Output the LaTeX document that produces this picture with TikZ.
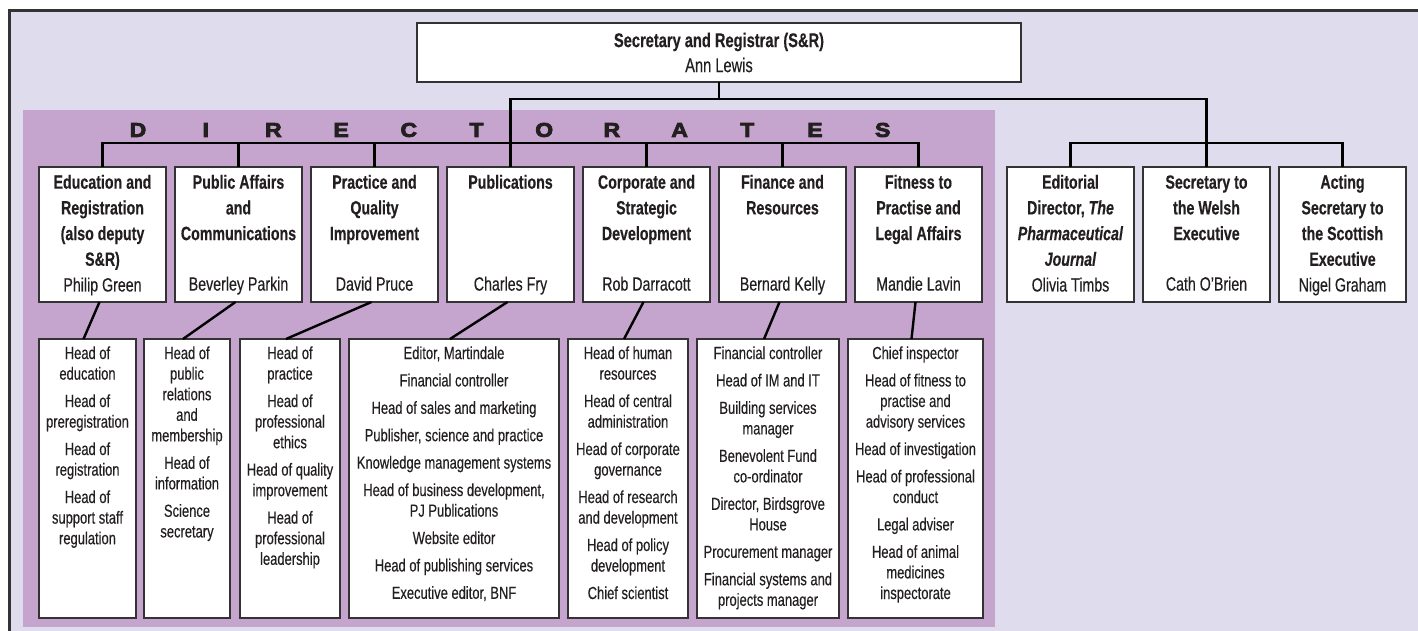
\documentclass[tikz,border=0pt]{standalone}
\usepackage{fontspec}
\setmainfont{Liberation Sans}[FakeStretch=0.74, FakeBold=0.3]
\newfontfamily\widefont{Liberation Sans}[FakeStretch=1.15, FakeBold=4]
\usepackage{tikz}
\usetikzlibrary{positioning, backgrounds}
\definecolor{lavender}{HTML}{DFDCEE}
\definecolor{panel}{HTML}{C5A5CD}
\definecolor{ink}{HTML}{231F20}
\definecolor{boxline}{HTML}{333333}
\newcommand{\topfont}{\fontsize{19.8}{25}\selectfont}
\newcommand{\dirfont}{\fontsize{19.2}{25.7}\selectfont}
\newcommand{\subfont}{\fontsize{17.5}{20.6}\selectfont}
\newcommand{\nextitem}{\\[6.8pt]}
\newcommand{\dirtext}[2]{\parbox[c][127.6pt][t]{123pt}{\dirfont\centering\bfseries\strut #1\strut\par\vfill\mdseries\strut #2\strut}}
\newcommand{\subtext}[2]{\parbox[c][267.8pt][t]{#1}{\subfont\centering\strut #2\strut}}
\tikzstyle{topbox}=[draw=boxline, fill=white, line width=1.2pt, outer sep=0pt, text=ink, align=center, font=\topfont, minimum width=604pt, minimum height=59pt, inner sep=0pt]
\tikzstyle{dirbox}=[draw=boxline, fill=white, line width=1.2pt, outer sep=0pt, text=ink, inner xsep=2pt, inner ysep=3.7pt]
\tikzstyle{subbox}=[draw=boxline, fill=white, line width=1.2pt, outer sep=0pt, text=ink, inner xsep=0pt, inner ysep=5.6pt]
\tikzstyle{letter}=[text=ink, inner sep=0pt, font=\widefont\bfseries\fontsize{20}{20}\selectfont]
\tikzstyle{conn}=[line width=2.4pt, black]

\begin{document}
\begin{tikzpicture}[x=1pt, y=-1pt]
\useasboundingbox (0,0) rectangle (1418,631);
% the top box
\node[topbox] (sr) at (719,52.5) {\textbf{Secretary and Registrar (S\&R)}\\Ann Lewis};
% the directors
\node[dirbox, anchor=north west] (d1) at (39,167) {\dirtext{Education and\\Registration\\(also deputy\\S\&R)}{Philip Green}};
\node[dirbox, right=9pt of d1] (d2) {\dirtext{Public Affairs\\and\\Communications}{Beverley Parkin}};
\node[dirbox, right=9pt of d2] (d3) {\dirtext{Practice and\\Quality\\Improvement}{David Pruce}};
\node[dirbox, right=9pt of d3] (d4) {\dirtext{Publications}{Charles Fry}};
\node[dirbox, right=9pt of d4] (d5) {\dirtext{Corporate and\\Strategic\\Development}{Rob Darracott}};
\node[dirbox, right=9pt of d5] (d6) {\dirtext{Finance and\\Resources}{Bernard Kelly}};
\node[dirbox, right=9pt of d6] (d7) {\dirtext{Fitness to\\Practise and\\Legal Affairs}{Mandie Lavin}};
% the executives
\node[dirbox, right=25pt of d7] (e1) {\dirtext{Editorial\\Director, \textit{The}\\\textit{Pharmaceutical}\\\textit{Journal}}{Olivia Timbs}};
\node[dirbox, right=9pt of e1] (e2) {\dirtext{Secretary to\\the Welsh\\Executive}{Cath O’Brien}};
\node[dirbox, right=9pt of e2] (e3) {\dirtext{Acting\\Secretary to\\the Scottish\\Executive}{Nigel Graham}};
% the staff lists
\node[subbox, anchor=north west] (s1) at (39,339) {\subtext{97pt}{Head of\\education\nextitem Head of\\preregistration\nextitem Head of\\registration\nextitem Head of\\support staff\\regulation}};
\node[subbox, right=8pt of s1] (s2) {\subtext{86pt}{Head of\\public\\relations\\and\\membership\nextitem Head of\\information\nextitem Science\\secretary}};
\node[subbox, right=10pt of s2] (s3) {\subtext{100pt}{Head of\\practice\nextitem Head of\\professional\\ethics\nextitem Head of quality\\improvement\nextitem Head of\\professional\\leadership}};
\node[subbox, right=9pt of s3] (s4) {\subtext{210pt}{Editor, Martindale\nextitem Financial controller\nextitem Head of sales and marketing\nextitem Publisher, science and practice\nextitem Knowledge management systems\nextitem Head of business development,\\PJ Publications\nextitem Website editor\nextitem Head of publishing services\nextitem Executive editor, BNF}};
\node[subbox, right=9pt of s4] (s5) {\subtext{120pt}{Head of human\\resources\nextitem Head of central\\administration\nextitem Head of corporate\\governance\nextitem Head of research\\and development\nextitem Head of policy\\development\nextitem Chief scientist}};
\node[subbox, right=9pt of s5] (s6) {\subtext{142pt}{Financial controller\nextitem Head of IM and IT\nextitem Building services\\manager\nextitem Benevolent Fund\\co-ordinator\nextitem Director, Birdsgrove\\House\nextitem Procurement manager\nextitem Financial systems and\\projects manager}};
\node[subbox, right=9pt of s6] (s7) {\subtext{135pt}{Chief inspector\nextitem Head of fitness to\\practise and\\advisory services\nextitem Head of investigation\nextitem Head of professional\\conduct\nextitem Legal adviser\nextitem Head of animal\\medicines\\inspectorate}};
% the banner
\foreach \l [count=\i] in {D,I,R,E,C,T,O,R,A,T,E,S}
  \node[letter] (dl\i) at (70.3+67.7*\i,130) {\l};
% the connectors
\coordinate (tbus) at (0,99);
\coordinate (dbus) at (0,143);
\draw[conn] (sr.south) -- (sr.south |- tbus);
\draw[conn] (d4.north) |- (tbus -| e2.north) -- (e2.north);
\draw[conn] (d1.north) |- (dbus -| d7.north) -- (d7.north);
\draw[conn] (e1.north) |- (dbus -| e3.north) -- (e3.north);
\foreach \n in {d2,d3,d5,d6}
  \draw[conn] (\n.north) -- (\n.north |- dbus);
\foreach \i in {1,...,7}
  \draw[conn] ([xshift=-3pt]d\i.south) -- ([xshift=-4pt]s\i.north);
% the frame and the panel
\begin{scope}[on background layer]
\fill[lavender] (9.5,10.3) rectangle (1418,631);
\draw[line width=2.5pt, boxline] (9.5,631) -- (9.5,10.3) -- (1418,10.3);
\fill[panel] (23,110) rectangle (995,627);
\end{scope}
\end{tikzpicture}
\end{document}
